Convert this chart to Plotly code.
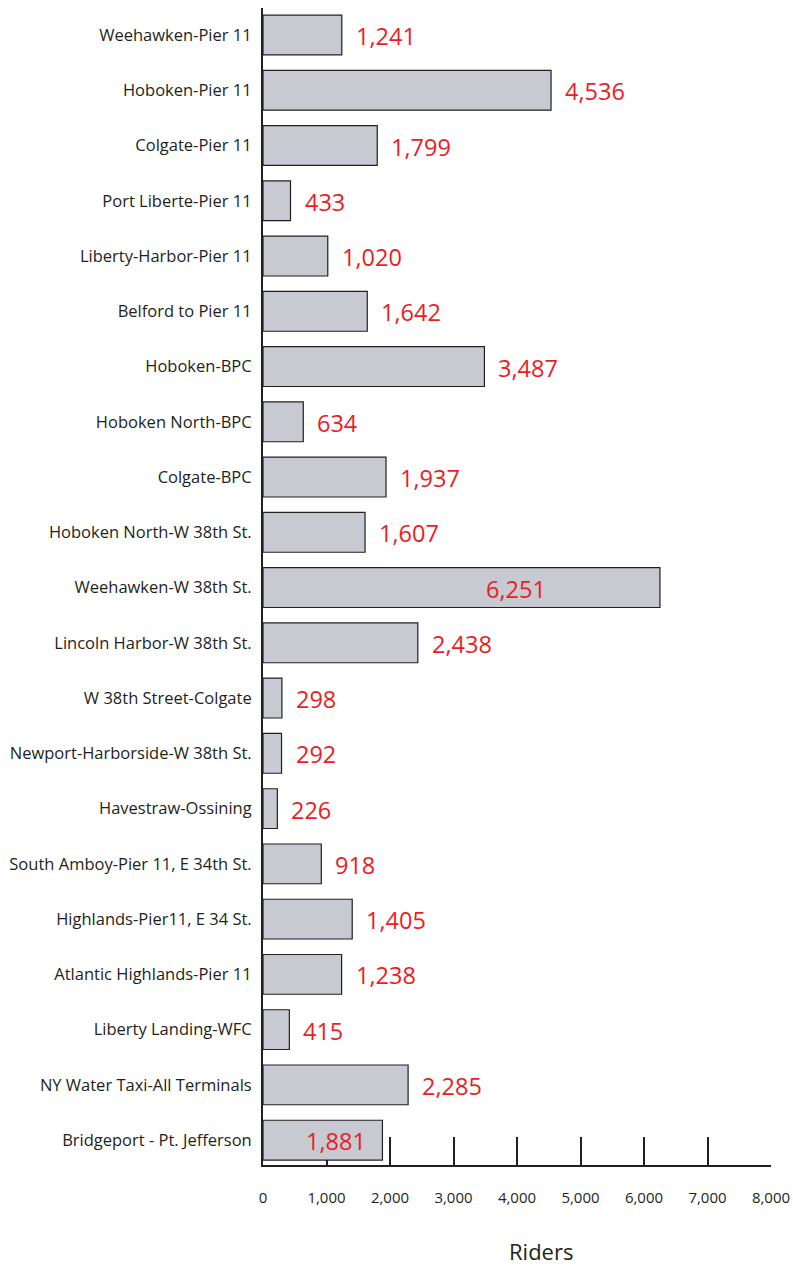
import plotly.graph_objects as go

routes = [
    "Weehawken-Pier 11", "Hoboken-Pier 11", "Colgate-Pier 11", "Port Liberte-Pier 11",
    "Liberty-Harbor-Pier 11", "Belford to Pier 11", "Hoboken-BPC", "Hoboken North-BPC",
    "Colgate-BPC", "Hoboken North-W 38th St.", "Weehawken-W 38th St.",
    "Lincoln Harbor-W 38th St.", "W 38th Street-Colgate", "Newport-Harborside-W 38th St.",
    "Havestraw-Ossining", "South Amboy-Pier 11, E 34th St.", "Highlands-Pier11, E 34 St.",
    "Atlantic Highlands-Pier 11", "Liberty Landing-WFC", "NY Water Taxi-All Terminals",
    "Bridgeport - Pt. Jefferson",
]
riders = [1241, 4536, 1799, 433, 1020, 1642, 3487, 634, 1937, 1607, 6251,
          2438, 298, 292, 226, 918, 1405, 1238, 415, 2285, 1881]
# label placement style: pixel shift relative to bar end (negative = inside bar)
label_shift = [12] * len(routes)
label_shift[routes.index("Weehawken-W 38th St.")] = -176
label_shift[routes.index("Bridgeport - Pt. Jefferson")] = -78

x_ticks = [0, 1000, 2000, 3000, 4000, 5000, 6000, 7000, 8000]
x_ticktext = ["0", "1,000", "2,000", "3,000", "4,000", "5,000", "6,000", "7,000", "8,000"]

DARK = "#231f20"
RED = "#ed1c24"
FONT = "Open Sans"

W, H = 793, 1268
ML, MR, MT, MB = 263, 22, 8, 103

fig = go.Figure()
fig.add_trace(go.Bar(
    x=riders, y=routes, orientation="h",
    marker=dict(color="#c8cad2", line=dict(color=DARK, width=1.2)),
    hoverinfo="skip",
))

for r, v, s in zip(routes, riders, label_shift):
    fig.add_annotation(
        x=v, y=r, xref="x", yref="y", text=f"{v:,}", showarrow=False,
        xanchor="left", xshift=s, yshift=-1,
        font=dict(family=FONT, size=23.5, color=RED),
    )

fig.add_annotation(
    x=(541 - ML) / (W - ML - MR), y=-(1251 - (H - MB)) / (H - MT - MB),
    xref="paper", yref="paper", text="Riders", showarrow=False,
    xanchor="center", yanchor="middle",
    font=dict(family=FONT, size=22, color=DARK),
)

fig.update_layout(
    width=W, height=H,
    margin=dict(l=ML, r=MR, t=MT, b=MB, autoexpand=False),
    paper_bgcolor="white", plot_bgcolor="white",
    showlegend=False, bargap=0.28,
    font=dict(family=FONT, color=DARK),
    xaxis=dict(
        range=[0, 8000], tickvals=x_ticks, ticktext=x_ticktext,
        showgrid=False, zeroline=False, automargin=False,
        showline=True, linecolor=DARK, linewidth=2,
        ticks="inside", ticklen=28, tickwidth=2, tickcolor=DARK,
        tickfont=dict(family=FONT, size=15, color=DARK),
        ticklabelstandoff=18, layer="below traces",
    ),
    yaxis=dict(
        categoryorder="array", categoryarray=routes,
        range=[20.45, -0.49], automargin=False,
        showgrid=False, zeroline=False,
        showline=True, linecolor=DARK, linewidth=2,
        ticks="", ticklabelstandoff=6,
        tickfont=dict(family=FONT, size=16.5, color=DARK),
        layer="below traces",
    ),
)

fig.write_html(
    "out.html",
    config={"displayModeBar": False, "staticPlot": True},
    post_script="document.body.style.margin='0';document.body.style.overflow='hidden';",
)
